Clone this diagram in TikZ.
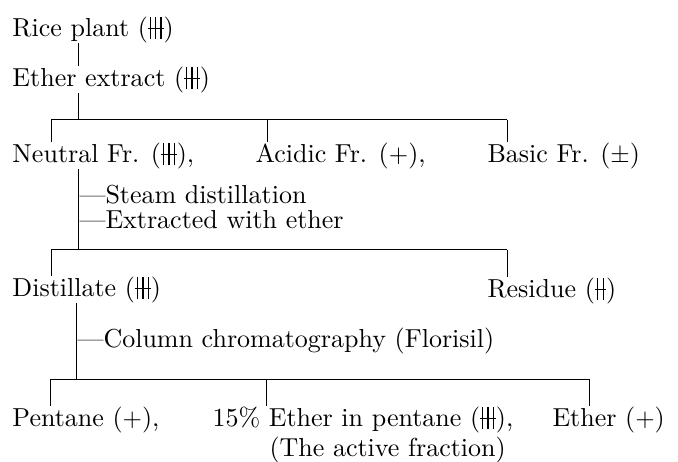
\documentclass[tikz,border=0pt]{standalone}
\usepackage{tikz}

% grading marks: three bars and two bars across one line
\newcommand{\tplus}{\hbox{\rlap{\rule[0.27em]{0.6em}{0.045em}}\hspace{0.08em}\rule[-0.12em]{0.045em}{0.84em}\hspace{0.155em}\rule[-0.12em]{0.045em}{0.84em}\hspace{0.155em}\rule[-0.12em]{0.045em}{0.84em}\hspace{0.08em}}}
\newcommand{\dplus}{\hbox{\rlap{\rule[0.27em]{0.43em}{0.045em}}\hspace{0.08em}\rule[-0.12em]{0.045em}{0.84em}\hspace{0.18em}\rule[-0.12em]{0.045em}{0.84em}\hspace{0.08em}}}

\begin{document}
\begin{tikzpicture}[x = 0.4pt, y = -0.4pt,
    every node/.style = {anchor = base west, inner sep = 0pt, font = \fontsize{10.4}{12}\selectfont},
    branch/.style = {line width = 0.35pt}]
    \useasboundingbox (0,0) rectangle (678,461);

    \node (rice) at (12,36) {Rice plant (\tplus)};
    \node (ether) at (12,86) {Ether extract (\tplus)};

    \node (neutral) at (12,162) {Neutral Fr. (\tplus),};
    \node (acidic) at (255,162) {Acidic Fr. ($+$),};
    \node (basic) at (487,162) {Basic Fr. ($\pm$)};

    \node (steam) at (79,203) {---Steam distillation};
    \node (extr) at (79,228) {---Extracted with ether};

    \node (distillate) at (12,296) {Distillate (\tplus)};
    \node (residue) at (487,297) {Residue (\dplus)};

    \node (column) at (77,347) {---Column chromatography (Florisil)};

    \node (pentane) at (12,426) {Pentane ($+$),};
    \node (active) at (212,426) {15\% Ether in pentane (\tplus),};
    \node (etherfr) at (552,426) {Ether ($+$)};
    \node (note) at (269,456) {(The active fraction)};

    % junctions
    \coordinate (j1) at (78,119.5);
    \coordinate (j1l) at (51,119.5);
    \coordinate (j1a) at (267,119.5);
    \coordinate (j1r) at (507,119.5);
    \coordinate (j2) at (78,249.5);
    \coordinate (j2l) at (51,249.5);
    \coordinate (j2r) at (507,249.5);
    \coordinate (j3) at (76,379);
    \coordinate (j3l) at (50,379);
    \coordinate (j3m) at (266,379);
    \coordinate (j3r) at (589,379);

    \draw[branch] (rice.south -| j1) -- (ether.north -| j1);
    \draw[branch] (ether.south -| j1) -- (j1);
    \draw[branch] (j1l) -- (j1r);
    \draw[branch] (j1l) -- (neutral.north -| j1l);
    \draw[branch] (j1a) -- (acidic.north -| j1a);
    \draw[branch] (j1r) -- (basic.north -| j1r);

    \draw[branch] (neutral.south -| j2) -- (j2);
    \draw[branch] (j2l) -- (j2r);
    \draw[branch] (j2l) -- (distillate.north -| j2l);
    \draw[branch] (j2r) -- (residue.north -| j2r);

    \draw[branch] (distillate.south -| j3) -- (j3);
    \draw[branch] (j3l) -- (j3r);
    \draw[branch] (j3l) -- (pentane.north -| j3l);
    \draw[branch] (j3m) -- (active.north -| j3m);
    \draw[branch] (j3r) -- (etherfr.north -| j3r);
\end{tikzpicture}
\end{document}
